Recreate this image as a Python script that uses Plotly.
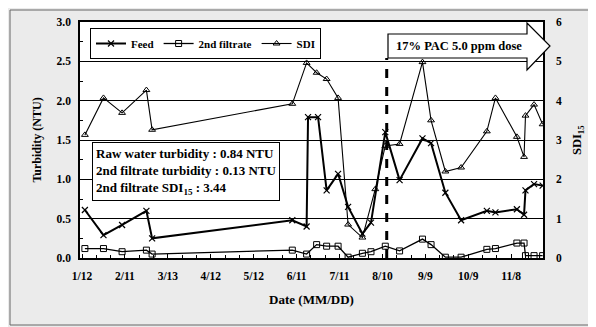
import plotly.graph_objects as go

# ---- data ----
feed_dates = ["2009-01-14", "2009-01-27", "2009-02-09", "2009-02-26", "2009-03-02",
              "2009-06-08", "2009-06-18", "2009-06-19", "2009-06-26", "2009-07-02",
              "2009-07-10", "2009-07-17", "2009-07-27", "2009-08-02", "2009-08-12",
              "2009-08-22", "2009-09-07", "2009-09-13", "2009-09-23", "2009-10-04",
              "2009-10-22", "2009-10-28", "2009-11-12", "2009-11-17", "2009-11-18",
              "2009-11-24", "2009-11-30"]
feed_ntu = [0.61, 0.29, 0.42, 0.60, 0.25,
            0.48, 0.40, 1.79, 1.79, 0.86,
            1.07, 0.65, 0.31, 0.45, 1.60,
            0.99, 1.52, 1.46, 0.83, 0.48,
            0.60, 0.58, 0.62, 0.55, 0.86,
            0.94, 0.92]

filt_dates = ["2009-01-14", "2009-01-27", "2009-02-09", "2009-02-26", "2009-03-02",
              "2009-06-08", "2009-06-18", "2009-06-25", "2009-07-02", "2009-07-10",
              "2009-07-17", "2009-07-27", "2009-08-02", "2009-08-12", "2009-08-22",
              "2009-09-07", "2009-09-13", "2009-09-23", "2009-10-04", "2009-10-22",
              "2009-10-28", "2009-11-12", "2009-11-17", "2009-11-18", "2009-11-24",
              "2009-11-30"]
filt_ntu = [0.12, 0.12, 0.08, 0.10, 0.05,
            0.10, 0.05, 0.17, 0.15, 0.15,
            0.01, 0.06, 0.08, 0.15, 0.09,
            0.24, 0.17, 0.01, 0.01, 0.11,
            0.12, 0.19, 0.19, 0.03, 0.03,
            0.03]

sdi_dates = ["2009-01-14", "2009-01-27", "2009-02-09", "2009-02-26", "2009-03-02",
             "2009-06-08", "2009-06-18", "2009-06-25", "2009-07-02", "2009-07-10",
             "2009-07-17", "2009-07-27", "2009-08-05", "2009-08-12", "2009-08-22",
             "2009-09-07", "2009-09-13", "2009-09-23", "2009-10-04", "2009-10-22",
             "2009-10-28", "2009-11-12", "2009-11-17", "2009-11-18", "2009-11-24",
             "2009-11-30"]
sdi_vals = [3.13, 4.07, 3.69, 4.27, 3.26,
            3.92, 4.96, 4.71, 4.55, 4.07,
            0.85, 0.52, 1.75, 2.85, 2.90,
            4.98, 3.50, 2.20, 2.30, 3.22,
            4.07, 3.08, 2.57, 3.62, 3.90,
            3.40]

tick_dates = ["2009-01-12", "2009-02-11", "2009-03-13", "2009-04-12", "2009-05-12",
              "2009-06-11", "2009-07-11", "2009-08-10", "2009-09-09", "2009-10-09",
              "2009-11-08"]
tick_labels = ["1/12", "2/11", "3/13", "4/12", "5/12", "6/11", "7/11", "8/10",
               "9/9", "10/9", "11/8"]

pac_start = "2009-08-13"

FONT = "Liberation Serif"

fig = go.Figure()
fig.add_trace(go.Scatter(
    x=feed_dates, y=feed_ntu, name="<b>Feed</b>", mode="lines+markers",
    line=dict(color="black", width=2),
    marker=dict(symbol="x-thin", size=6, line=dict(color="black", width=1.2))))
fig.add_trace(go.Scatter(
    x=filt_dates, y=filt_ntu, name="<b>2nd filtrate</b>", mode="lines+markers",
    line=dict(color="black", width=1.3),
    marker=dict(symbol="square-open", size=6, color="black", line=dict(width=1))))
fig.add_trace(go.Scatter(
    x=sdi_dates, y=sdi_vals, name="<b>SDI</b>", mode="lines+markers", yaxis="y2",
    line=dict(color="black", width=1.1),
    marker=dict(symbol="triangle-up-open", size=6, color="black", line=dict(width=1))))

# the page body has an 8px margin: figure is placed at (8, 8) on screen
OFF = 8
SW, SH = 596, 327                       # screen size
PL, PR, PT, PB = 80, 543, 22, 258       # plot area on screen
W, H = SW - OFF, SH - OFF
L, T = PL - OFF, PT - OFF
R, B = SW - PR, SH - PB
pw, ph = PR - PL, PB - PT

def px(xs):
    return (xs - PL) / pw

def py(ys):
    return (PB - ys) / ph

shapes = []
# outer frame
shapes.append(dict(type="rect", xref="paper", yref="paper",
                   x0=px(10), x1=px(594), y0=py(325), y1=py(10),
                   line=dict(color="#666", width=1), layer="below"))
# dashed PAC line
shapes.append(dict(type="line", xref="x", yref="paper", x0=pac_start, x1=pac_start,
                   y0=0, y1=py(58), line=dict(color="black", width=3, dash="dash")))
# arrow
ax0, ax1, atip = px(388), px(527), px(550)
by0, by1 = py(58), py(34)
hy0, hy1 = py(70), py(23)
ymid = (by0 + by1) / 2
path = (f"M {ax0},{by0} L {ax1},{by0} L {ax1},{hy0} L {atip},{ymid} "
        f"L {ax1},{hy1} L {ax1},{by1} L {ax0},{by1} Z")
shapes.append(dict(type="path", xref="paper", yref="paper", path=path,
                   fillcolor="white", line=dict(color="black", width=1.2)))

annotations = [
    dict(xref="paper", yref="paper", x=px(459), y=py(46), xanchor="center",
         yanchor="middle", showarrow=False,
         text="<b>17% PAC 5.0 ppm dose</b>", font=dict(family=FONT, size=12.5, color="black")),
    dict(xref="paper", yref="paper", x=px(92), y=py(142), xanchor="left", yanchor="top",
         showarrow=False, align="left", bgcolor="white", bordercolor="black", borderwidth=1,
         borderpad=3,
         text=("<b>Raw water turbidity : 0.84 NTU</b><br>"
               "<b>2nd filtrate turbidity : 0.13 NTU</b><br>"
               "<b>2nd filtrate SDI<sub>15</sub> : 3.44</b>"),
         font=dict(family=FONT, size=13, color="black")),
    dict(xref="paper", yref="paper", x=px(578), y=py(140), xanchor="center",
         yanchor="middle", showarrow=False, textangle=-90,
         text="<b>SDI<sub>15</sub></b>", font=dict(family=FONT, size=12.5, color="black")),
]

fig.update_layout(
    width=W, height=H,
    margin=dict(l=L, r=R, t=T, b=B, autoexpand=False),
    paper_bgcolor="#ebebeb", plot_bgcolor="white",
    font=dict(family=FONT, size=11, color="black"),
    showlegend=True,
    legend=dict(orientation="h", x=px(90), y=py(28), xanchor="left", yanchor="top",
                bgcolor="white", bordercolor="black", borderwidth=1,
                font=dict(family=FONT, size=11, color="black"),
                itemwidth=30, tracegroupgap=0),
    xaxis=dict(type="date", range=["2009-01-10 14:00", "2009-11-30 06:00"],
               tickmode="array", tickvals=tick_dates, ticktext=tick_labels,
               tickfont=dict(family=FONT, size=11.5, color="black", weight="bold"),
               ticklabelstandoff=6,
               showgrid=False, showline=True, linecolor="black", linewidth=1.5,
               mirror=True, ticks="inside", ticklen=4, tickcolor="black",
               minor=dict(dtick=10 * 86400000, tick0="2009-01-12", ticks="inside",
                          ticklen=3, tickcolor="black"),
               title=dict(text="<b>Date (MM/DD)</b>", font=dict(family=FONT, size=13),
                          standoff=14),
               zeroline=False),
    yaxis=dict(range=[0, 3], dtick=0.5, tickformat=".1f",
               tickfont=dict(family=FONT, size=11.5, color="black", weight="bold"),
               ticklabelstandoff=5,
               showgrid=True, gridcolor="black", gridwidth=1,
               showline=True, linecolor="black", linewidth=1.5, mirror=True,
               ticks="inside", ticklen=4, tickcolor="black",
               minor=dict(dtick=0.25, ticks="inside", ticklen=3, tickcolor="black"),
               title=dict(text="<b>Turbidity (NTU)</b>", font=dict(family=FONT, size=12),
                          standoff=12),
               zeroline=False),
    yaxis2=dict(range=[0, 6], dtick=1, overlaying="y", side="right",
                tickfont=dict(family=FONT, size=11.5, color="black", weight="bold"),
                ticklabelstandoff=12,
                showgrid=False, showline=False, ticks="", zeroline=False),
    shapes=shapes,
    annotations=annotations,
)

fig.write_html("out.html")
